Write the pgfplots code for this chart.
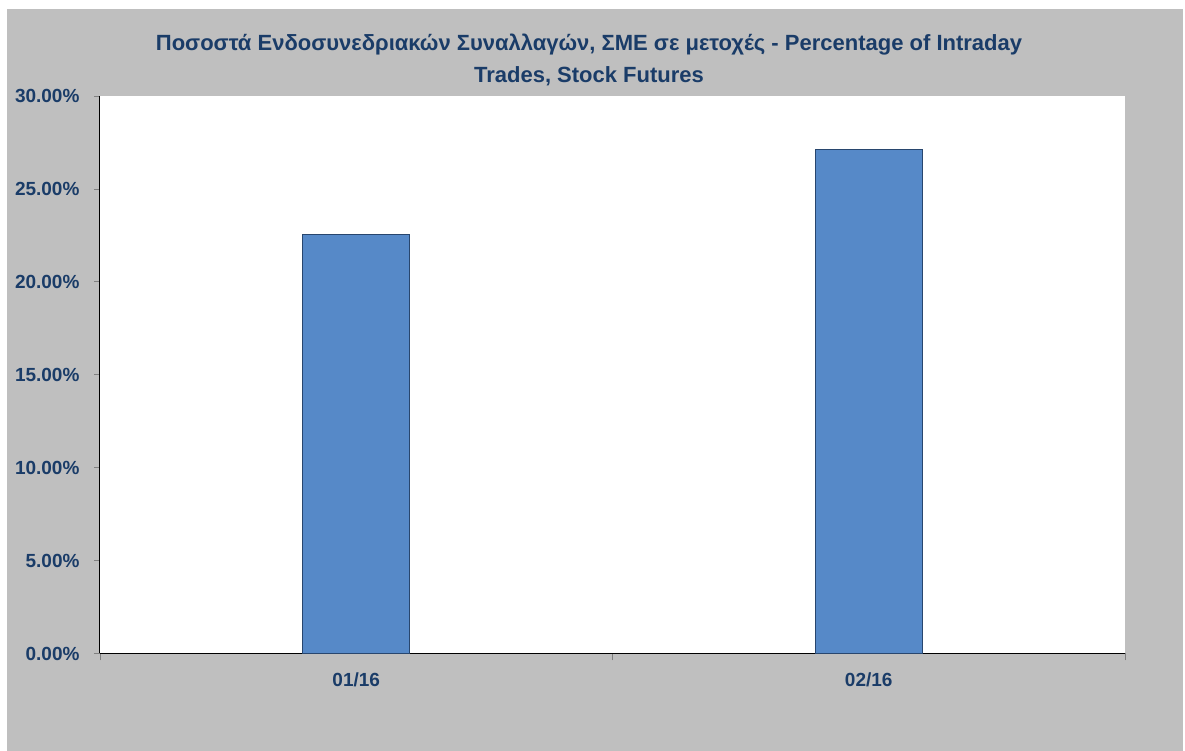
\documentclass[border=0pt]{standalone}
\usepackage{fontspec}
\setmainfont{Liberation Sans}
\usepackage{pgfplots}
\pgfplotsset{compat=1.18}
\definecolor{txtblue}{RGB}{26,60,104}
\definecolor{bgray}{RGB}{191,191,191}
\definecolor{barfill}{RGB}{86,137,200}
\definecolor{baredge}{RGB}{40,70,110}
\begin{document}
\begin{tikzpicture}[x=1pt,y=1pt]
% picture frame: 1px = 1pt, axis lower left corner at (0,0)
\path[use as bounding box,fill=white] (-100,-97.5) rectangle (1085,653.5);
\fill[bgray] (-93,-97.5) rectangle (1083,644.5);
\node[align=center,text=txtblue,font=\fontsize{22}{32}\selectfont\bfseries]
  at (489,594) {Ποσοστά Ενδοσυνεδριακών Συναλλαγών, ΣΜΕ σε μετοχές - Percentage of Intraday\\Trades, Stock Futures};
\begin{axis}[
  at={(0,0)}, anchor=south west,
  scale only axis,
  width=1025pt, height=557.5pt,
  axis background/.style={fill=white},
  axis lines*=left,
  axis line style={black, line width=1pt},
  ybar, bar width=107pt,
  xmin=-0.5, xmax=1.5,
  ymin=0, ymax=30,
  xtick={0,1}, xticklabels={01/16,02/16},
  major x tick style={draw=none},
  minor xtick={-0.5,0.5,1.5},
  minor x tick style={gray, line width=0.8pt},
  minor tick length=7pt,
  ytick={0,5,...,30},
  y tick style={gray, line width=0.8pt},
  major tick length=6pt,
  tick align=outside,
  /pgf/number format/assume math mode=true,
  tick label style={text=txtblue, font=\fontsize{19}{22}\selectfont\bfseries},
  yticklabel={\pgfmathprintnumber[fixed,fixed zerofill,precision=2]{\tick}\%},
  yticklabel style={xshift=-11pt},
  xticklabel style={yshift=-10pt},
  clip=false,
]
\addplot[fill=barfill, draw=baredge, line width=1.2pt] coordinates {(0,22.56) (1,27.14)};
\end{axis}
\end{tikzpicture}
\end{document}
